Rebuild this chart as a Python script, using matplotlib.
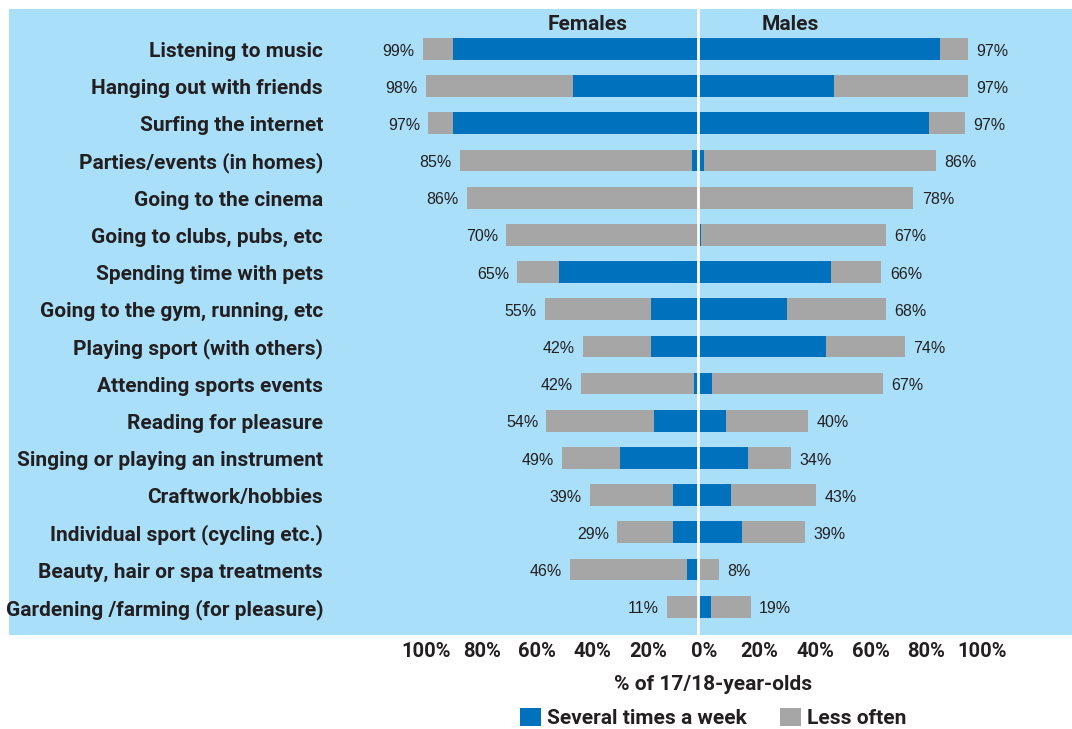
import matplotlib
matplotlib.use("Agg")
import matplotlib.pyplot as plt
import matplotlib.transforms as mtransforms
from matplotlib.patches import Patch
import numpy as np

categories = [
    "Listening to music",
    "Hanging out with friends",
    "Surfing the internet",
    "Parties/events (in homes)",
    "Going to the cinema",
    "Going to clubs, pubs, etc",
    "Spending time with pets",
    "Going to the gym, running, etc",
    "Playing sport (with others)",
    "Attending sports events",
    "Reading for pleasure",
    "Singing or playing an instrument",
    "Craftwork/hobbies",
    "Individual sport (cycling etc.)",
    "Beauty, hair or spa treatments",
    "Gardening /farming (for pleasure)",
]

female_several = [88, 45, 88, 2, 0, 0.5, 50, 17, 17, 1.5, 16, 28, 9, 9, 4, 0.5]
female_less = [11, 53, 9, 83.5, 83, 68.5, 15, 38, 24.5, 40.5, 38.5, 21, 30, 20, 42, 10.5]
female_labels = ["99%", "98%", "97%", "85%", "86%", "70%", "65%", "55%", "42%", "42%",
                 "54%", "49%", "39%", "29%", "46%", "11%"]

male_several = [87, 49, 83, 2, 0, 1, 48, 32, 46, 5, 10, 18, 12, 16, 0, 4.5]
male_less = [10, 48, 13, 83.5, 77.5, 66.5, 18, 35.5, 28.5, 61.5, 29.5, 15.5, 30.5, 22.5, 7.5, 14.5]
male_labels = ["97%", "97%", "97%", "86%", "78%", "67%", "66%", "68%", "74%", "67%",
               "40%", "34%", "43%", "39%", "8%", "19%"]

tick_values = [-100, -80, -60, -40, -20, 0, 20, 40, 60, 80, 100]
tick_labels = ["100%", "80%", "60%", "40%", "20%", "0%", "20%", "40%", "60%", "80%", "100%"]

series_names = ["Several times a week", "Less often"]

BLUE = "#0071BC"
GREY = "#A6A6A6"
BG = "#A9DFF9"
TXT = "#231F20"
BOLD_FONT = ["Roboto", "DejaVu Sans"]
REG_FONT = ["Liberation Sans", "DejaVu Sans"]
BOLD_SIZE = 15

W, H = 1072, 729
fig = plt.figure(figsize=(W / 100, H / 100), dpi=100)
fig.patch.set_facecolor("white")

ax_left, ax_right, ax_top, ax_bottom = 9, 1072, 9, 635
ax = fig.add_axes([ax_left / W, 1 - ax_bottom / H, (ax_right - ax_left) / W, (ax_bottom - ax_top) / H])
ax.set_facecolor(BG)

px_per_pct = 2.78
center_px = 698
ax.set_xlim((ax_left - center_px) / px_per_pct, (ax_right - center_px) / px_per_pct)

n = len(categories)
y = np.arange(n)
row_px = 37.18
ax.set_ylim(n - 1 + (ax_bottom - 606.7) / row_px, -(49 - ax_top) / row_px)

fs = np.array(female_several)
fl = np.array(female_less)
ms = np.array(male_several)
ml = np.array(male_less)
bh = 0.585

ax.barh(y, -fs, height=bh, color=BLUE, linewidth=0, zorder=2)
ax.barh(y, -fl, left=-fs, height=bh, color=GREY, linewidth=0, zorder=2)
ax.barh(y, ms, height=bh, color=BLUE, linewidth=0, zorder=2)
ax.barh(y, ml, left=ms, height=bh, color=GREY, linewidth=0, zorder=2)

ax.axvline(0, color="white", linewidth=2.0, zorder=3)

for i in range(n):
    ax.annotate(female_labels[i], xy=(-(fs[i] + fl[i]), y[i]), xytext=(-6, -1.5),
                textcoords="offset points", ha="right", va="center",
                fontsize=11.5, color=TXT, family=REG_FONT)
    ax.annotate(male_labels[i], xy=(ms[i] + ml[i], y[i]), xytext=(6, -1.5),
                textcoords="offset points", ha="left", va="center",
                fontsize=11.5, color=TXT, family=REG_FONT)

down = mtransforms.ScaledTranslation(0, -2.5 / 100, fig.dpi_scale_trans)
trans = mtransforms.blended_transform_factory(ax.transAxes, ax.transData) + down
lab_x = (323 - ax_left) / (ax_right - ax_left)
for i, c in enumerate(categories):
    ax.text(lab_x, y[i], c, transform=trans, ha="right", va="center",
            fontsize=BOLD_SIZE, fontweight="bold", color=TXT, family=BOLD_FONT)

head_y = -(49 - 22) / row_px
ax.text((588 - center_px) / px_per_pct, head_y, "Females", ha="center", va="center",
        fontsize=BOLD_SIZE, fontweight="bold", color=TXT, family=BOLD_FONT,
        transform=ax.transData + down)
ax.text((790.5 - center_px) / px_per_pct, head_y, "Males", ha="center", va="center",
        fontsize=BOLD_SIZE, fontweight="bold", color=TXT, family=BOLD_FONT,
        transform=ax.transData + down)

for s in ax.spines.values():
    s.set_visible(False)
ax.set_yticks([])
ax.set_xticks(tick_values)
ax.set_xticklabels(tick_labels)
ax.tick_params(axis="x", length=0, pad=5)
offset = mtransforms.ScaledTranslation(6 / 100, 0, fig.dpi_scale_trans)
for t in ax.get_xticklabels():
    t.set_fontsize(14.5)
    t.set_fontweight("bold")
    t.set_color(TXT)
    t.set_family(BOLD_FONT)
    t.set_transform(t.get_transform() + offset)

fig.text(713.5 / W, 1 - 684 / H, "% of 17/18-year-olds", ha="center", va="center",
         fontsize=BOLD_SIZE, fontweight="bold", color=TXT, family=BOLD_FONT)

handles = [Patch(facecolor=BLUE, edgecolor="none"), Patch(facecolor=GREY, edgecolor="none")]
leg = fig.legend(handles, series_names, loc="center", bbox_to_anchor=(713.5 / W, 1 - 718 / H),
                 ncol=2, frameon=False, handlelength=1.0, handleheight=1.0,
                 handletextpad=0.3, columnspacing=1.6, borderpad=0,
                 prop={"family": BOLD_FONT, "weight": "bold", "size": BOLD_SIZE})
for t in leg.get_texts():
    t.set_color(TXT)

fig.savefig("out.png", dpi=100, facecolor="white")
